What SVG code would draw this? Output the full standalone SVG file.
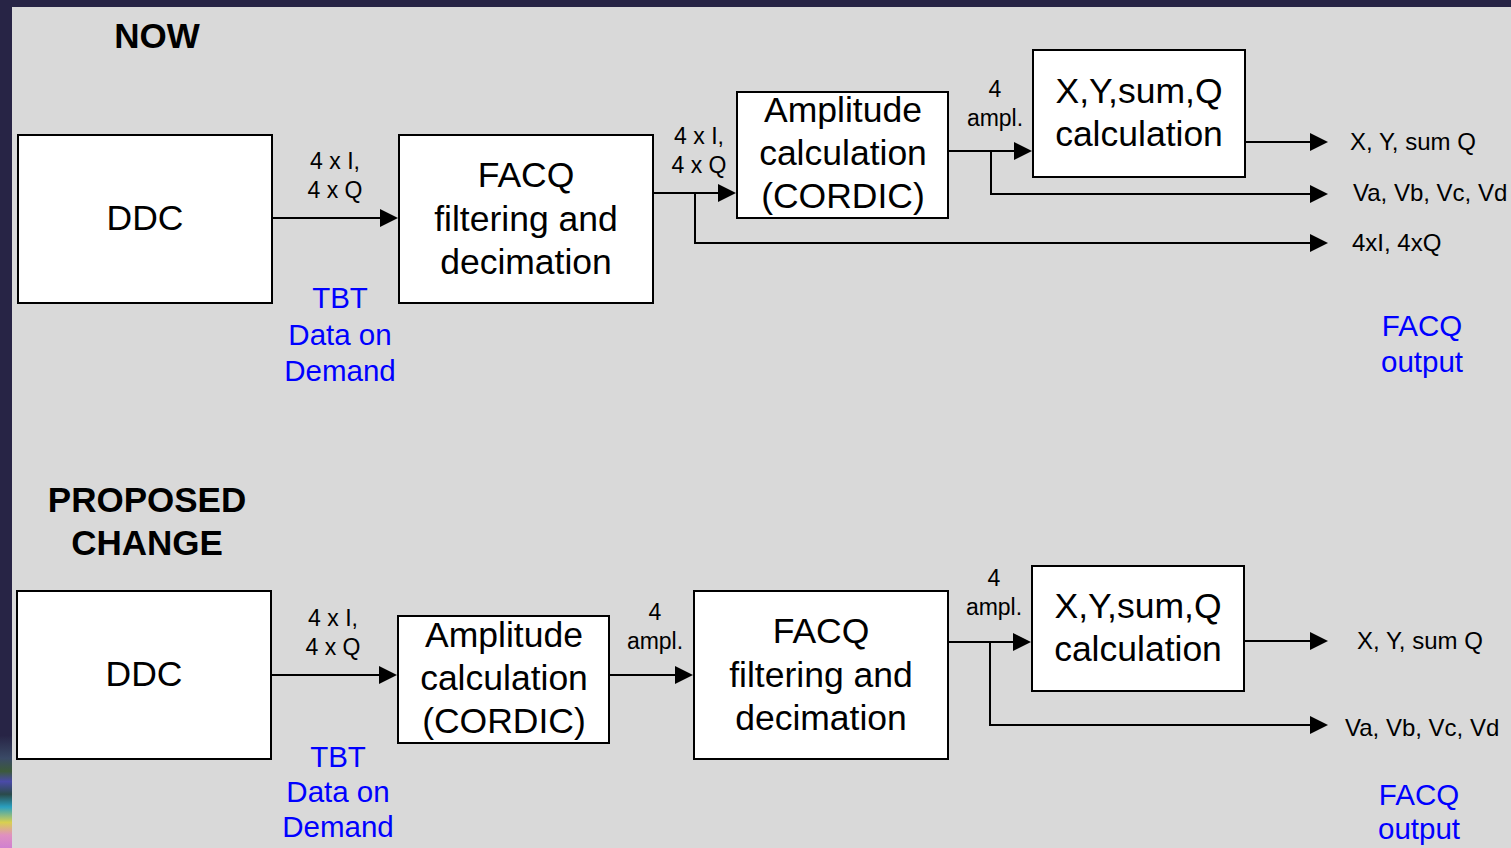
<svg xmlns="http://www.w3.org/2000/svg" width="1511" height="848" viewBox="0 0 1511 848">
  <style>
    .box { fill: #ffffff; stroke: #000000; stroke-width: 2; }
    .bt { font-family: "Liberation Sans", Arial, sans-serif; font-size: 35.5px; fill: #000000; text-anchor: middle; }
    .lbl { font-family: "Liberation Sans", Arial, sans-serif; font-size: 23px; fill: #000000; text-anchor: middle; }
    .out { font-family: "Liberation Sans", Arial, sans-serif; font-size: 24px; fill: #000000; }
    .blue { font-family: "Liberation Sans", Arial, sans-serif; font-size: 29.5px; fill: #0000ff; text-anchor: middle; }
    .head { font-family: "Liberation Sans", Arial, sans-serif; font-size: 35px; font-weight: bold; fill: #000000; text-anchor: middle; }
    .wire { fill: none; stroke: #000000; stroke-width: 2; }
  </style>
  <defs>
    <marker id="arr" markerWidth="18" markerHeight="18" viewBox="0 0 18 18" refX="16" refY="9" orient="auto" markerUnits="userSpaceOnUse">
      <path d="M0,0 L18,9 L0,18 z" fill="#000000"/>
    </marker>
    <linearGradient id="strip" x1="0" y1="0" x2="0" y2="1">
      <stop offset="0" stop-color="#272445"/>
      <stop offset="0.12" stop-color="#272445"/>
      <stop offset="0.3" stop-color="#3a4a66"/>
      <stop offset="0.4" stop-color="#3c5a3a"/>
      <stop offset="0.48" stop-color="#4a4aa8"/>
      <stop offset="0.58" stop-color="#2a4a4a"/>
      <stop offset="0.68" stop-color="#2aa0c0"/>
      <stop offset="0.8" stop-color="#d8d050"/>
      <stop offset="0.9" stop-color="#e090c0"/>
      <stop offset="1" stop-color="#d080d0"/>
    </linearGradient>
  </defs>

  <!-- page background and frame -->
  <rect x="0" y="0" width="1511" height="848" fill="#d9d9d9"/>
  <rect x="0" y="0" width="1511" height="7" fill="#272445"/>
  <rect x="0" y="0" width="12" height="848" fill="#272445"/>
  <rect x="0" y="720" width="12" height="128" fill="url(#strip)"/>

  <!-- section headings -->
  <text class="head" x="157" y="48">NOW</text>
  <text class="head" x="147" y="512">PROPOSED</text>
  <text class="head" x="147" y="555">CHANGE</text>

  <!-- current chain -->
  <g id="now-ddc">
    <rect class="box" x="18" y="135" width="254" height="168"/>
    <text class="bt" x="145" y="230">DDC</text>
  </g>
  <g id="now-facq">
    <rect class="box" x="399" y="135" width="254" height="168"/>
    <text class="bt" x="526" y="187">FACQ</text>
    <text class="bt" x="526" y="231">filtering and</text>
    <text class="bt" x="526" y="274">decimation</text>
  </g>
  <g id="now-cordic">
    <rect class="box" x="737" y="92" width="211" height="126"/>
    <text class="bt" x="843" y="122">Amplitude</text>
    <text class="bt" x="843" y="165">calculation</text>
    <text class="bt" x="843" y="208">(CORDIC)</text>
  </g>
  <g id="now-xyq">
    <rect class="box" x="1033" y="50" width="212" height="127"/>
    <text class="bt" x="1139" y="103">X,Y,sum,Q</text>
    <text class="bt" x="1139" y="146">calculation</text>
  </g>

  <!-- proposed chain -->
  <g id="new-ddc">
    <rect class="box" x="17" y="591" width="254" height="168"/>
    <text class="bt" x="144" y="686">DDC</text>
  </g>
  <g id="new-cordic">
    <rect class="box" x="398" y="616" width="211" height="127"/>
    <text class="bt" x="504" y="647">Amplitude</text>
    <text class="bt" x="504" y="690">calculation</text>
    <text class="bt" x="504" y="733">(CORDIC)</text>
  </g>
  <g id="new-facq">
    <rect class="box" x="694" y="591" width="254" height="168"/>
    <text class="bt" x="821" y="643">FACQ</text>
    <text class="bt" x="821" y="687">filtering and</text>
    <text class="bt" x="821" y="730">decimation</text>
  </g>
  <g id="new-xyq">
    <rect class="box" x="1032" y="566" width="212" height="125"/>
    <text class="bt" x="1138" y="618">X,Y,sum,Q</text>
    <text class="bt" x="1138" y="661">calculation</text>
  </g>

  <!-- connectors -->
  <g id="connectors">
    <path class="wire" d="M272,218 H396" marker-end="url(#arr)"/>
    <path class="wire" d="M653,193 H734" marker-end="url(#arr)"/>
    <path class="wire" d="M695,193 V243 H1326" marker-end="url(#arr)"/>
    <path class="wire" d="M948,151 H1030" marker-end="url(#arr)"/>
    <path class="wire" d="M991,151 V194 H1326" marker-end="url(#arr)"/>
    <path class="wire" d="M1245,142 H1326" marker-end="url(#arr)"/>

    <path class="wire" d="M271,675 H395" marker-end="url(#arr)"/>
    <path class="wire" d="M609,675 H691" marker-end="url(#arr)"/>
    <path class="wire" d="M948,642 H1029" marker-end="url(#arr)"/>
    <path class="wire" d="M990,642 V725 H1326" marker-end="url(#arr)"/>
    <path class="wire" d="M1244,641 H1326" marker-end="url(#arr)"/>
  </g>

  <!-- connector labels -->
  <g id="labels">
    <text class="lbl" x="335" y="169">4 x I,</text>
    <text class="lbl" x="335" y="198">4 x Q</text>
    <text class="lbl" x="699" y="144">4 x I,</text>
    <text class="lbl" x="699" y="173">4 x Q</text>
    <text class="lbl" x="995" y="97">4</text>
    <text class="lbl" x="995" y="126">ampl.</text>
    <text class="out" x="1350" y="150">X, Y, sum Q</text>
    <text class="out" x="1353" y="201">Va, Vb, Vc, Vd</text>
    <text class="out" x="1352" y="251">4xI, 4xQ</text>

    <text class="lbl" x="333" y="626">4 x I,</text>
    <text class="lbl" x="333" y="655">4 x Q</text>
    <text class="lbl" x="655" y="620">4</text>
    <text class="lbl" x="655" y="649">ampl.</text>
    <text class="lbl" x="994" y="586">4</text>
    <text class="lbl" x="994" y="615">ampl.</text>
    <text class="out" x="1357" y="649">X, Y, sum Q</text>
    <text class="out" x="1345" y="736">Va, Vb, Vc, Vd</text>
  </g>

  <!-- annotations -->
  <g id="notes">
    <text class="blue" x="340" y="308">TBT</text>
    <text class="blue" x="340" y="345">Data on</text>
    <text class="blue" x="340" y="381">Demand</text>
    <text class="blue" x="1422" y="336">FACQ</text>
    <text class="blue" x="1422" y="372">output</text>

    <text class="blue" x="338" y="767">TBT</text>
    <text class="blue" x="338" y="802">Data on</text>
    <text class="blue" x="338" y="837">Demand</text>
    <text class="blue" x="1419" y="805">FACQ</text>
    <text class="blue" x="1419" y="839">output</text>
  </g>
</svg>
